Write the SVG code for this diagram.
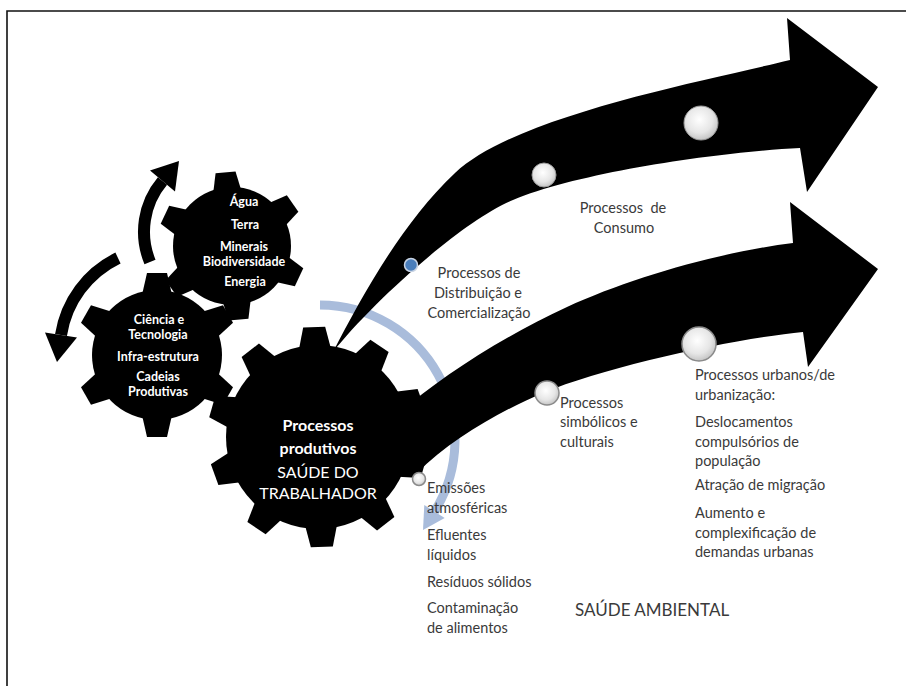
<svg xmlns="http://www.w3.org/2000/svg" xmlns:xlink="http://www.w3.org/1999/xlink" width="906" height="686" viewBox="0 0 906 686">
  <style>
    .frame { stroke: #111; stroke-width: 1.6; fill: none; }
    .gear { fill: #000; }
    .gtxt { fill: #fff; font-family: Lato, "Liberation Sans", sans-serif; text-anchor: middle; }
    .small { font-size: 12.5px; font-weight: bold; }
    .big { font-size: 16px; }
    .bold { font-weight: bold; }
    .lbl { fill: #3a3a3a; font-family: Lato, "Liberation Sans", sans-serif; font-size: 14.5px; }
    .mid { text-anchor: middle; }
    .title { fill: #3a3a3a; font-family: Lato, "Liberation Sans", sans-serif; font-size: 17px; }
    .cycle { fill: none; stroke: #000; stroke-width: 12; }
    .flow { fill: #000; }
    .dot { fill: url(#pearl); stroke: #8a8a8a; stroke-width: 1.5; }
    .dot-in { fill: url(#pearl); stroke: #9a9a9a; stroke-width: 1; }
  </style>
  <defs>
    <radialGradient id="pearl" cx="0.45" cy="0.4" r="0.65">
      <stop offset="0" stop-color="#ffffff"/>
      <stop offset="0.6" stop-color="#e6e6e6"/>
      <stop offset="1" stop-color="#bdbdbd"/>
    </radialGradient>
    <polygon id="tooth-l" points="-16,-88 -11,-110 11,-110 16,-88"/>
    <polygon id="tooth-m" points="-15,-60 -10,-82 10,-82 15,-60"/>
    <polygon id="tooth-s" points="-14,-55 -10,-74 10,-74 14,-55"/>
  </defs>

  <rect width="906" height="686" fill="#fff"/>
  <path class="frame" d="M906,11 H7 V686"/>

  <!-- blue rotation arc around the main gear -->
  <g id="cycle-blue">
    <path d="M320,305 A135 135 0 0 1 434.5,511.5" fill="none" stroke="#a9bcdb" stroke-width="9"/>
    <polygon points="444.7,517.9 424.3,505.1 423,530" fill="#a9bcdb"/>
  </g>

  <!-- circular arrows linking the small gears -->
  <g id="cycle-left">
    <path class="cycle" d="M118,258 A103 103 0 0 0 61,335"/>
    <polygon points="45,332.5 77,337.5 57,362" fill="#000"/>
  </g>
  <g id="cycle-top">
    <path class="cycle" d="M150,262 A79 79 0 0 1 162.5,181"/>
    <polygon points="150,170.5 175,191.5 179,161" fill="#000"/>
  </g>

  <!-- flow arrows -->
  <g id="connectors">
    <path id="arrow-upper" class="flow" d="M333,352 C360,300 400,225 455,173 C515,116 700,82 790,60 L787,18 L878,87 L807,192 L800,148 C720,152 580,172 513,200 C460,222 370,305 333,352 Z"/>
    <path id="arrow-lower" class="flow" d="M350,470 L400,412 C440,378 500,338 567,307 C630,278 720,252 793,243 L790,202 L878,269 L808,367 L803,332 C740,338 610,365 543,393 C500,411 450,440 417,473 L360,482 Z"/>
  </g>

  <!-- gear: natural resources -->
  <g id="gear-recursos" transform="translate(232,246)">
    <circle class="gear" r="59"/>
    <use href="#tooth-s" transform="rotate(-5)"/>
    <use href="#tooth-s" transform="rotate(55)"/>
    <use href="#tooth-s" transform="rotate(115)"/>
    <use href="#tooth-s" transform="rotate(175)"/>
    <use href="#tooth-s" transform="rotate(235)"/>
    <use href="#tooth-s" transform="rotate(295)"/>
    <g class="gtxt small">
      <text x="12" y="-40">Água</text>
      <text x="13" y="-17">Terra</text>
      <text x="12" y="5">Minerais</text>
      <text x="12" y="20">Biodiversidade</text>
      <text x="13" y="40">Energia</text>
    </g>
  </g>

  <!-- gear: science and technology -->
  <g id="gear-ciencia" transform="translate(157,355)">
    <circle class="gear" r="65"/>
    <use href="#tooth-m" transform="rotate(0)"/>
    <use href="#tooth-m" transform="rotate(60)"/>
    <use href="#tooth-m" transform="rotate(120)"/>
    <use href="#tooth-m" transform="rotate(180)"/>
    <use href="#tooth-m" transform="rotate(240)"/>
    <use href="#tooth-m" transform="rotate(300)"/>
    <g class="gtxt small">
      <text x="2" y="-31">Ciência e</text>
      <text x="1" y="-16">Tecnologia</text>
      <text x="1" y="6">Infra-estrutura</text>
      <text x="1" y="26">Cadeias</text>
      <text x="1" y="41">Produtivas</text>
    </g>
  </g>

  <!-- main gear: production processes -->
  <g id="gear-produtivos" transform="translate(318,437)">
    <circle class="gear" r="92"/>
    <use href="#tooth-l" transform="rotate(-2)"/>
    <use href="#tooth-l" transform="rotate(34)"/>
    <use href="#tooth-l" transform="rotate(70)"/>
    <use href="#tooth-l" transform="rotate(106)"/>
    <use href="#tooth-l" transform="rotate(142)"/>
    <use href="#tooth-l" transform="rotate(178)"/>
    <use href="#tooth-l" transform="rotate(214)"/>
    <use href="#tooth-l" transform="rotate(250)"/>
    <use href="#tooth-l" transform="rotate(286)"/>
    <use href="#tooth-l" transform="rotate(322)"/>
    <g class="gtxt big">
      <text class="bold" y="-6">Processos</text>
      <text class="bold" y="17">produtivos</text>
      <text y="41">SAÚDE DO</text>
      <text y="62">TRABALHADOR</text>
    </g>
  </g>

  <!-- stage markers -->
  <g id="markers">
    <circle cx="411" cy="265" r="6.5" fill="#4a7ebb" stroke="#c8d3e3" stroke-width="1.5"/>
    <circle class="dot-in" cx="544" cy="175" r="12"/>
    <circle class="dot-in" cx="701" cy="123" r="17"/>
    <circle class="dot" cx="419" cy="479" r="6.5"/>
    <circle class="dot" cx="547" cy="393" r="12"/>
    <circle class="dot" cx="699" cy="344" r="17"/>
  </g>

  <!-- labels -->
  <g id="label-consumo" class="lbl mid">
    <text x="623" y="213">Processos&#160; de</text>
    <text x="624" y="233">Consumo</text>
  </g>
  <g id="label-distribuicao" class="lbl mid">
    <text x="479" y="278">Processos de</text>
    <text x="478" y="298">Distribuição e</text>
    <text x="479" y="318">Comercialização</text>
  </g>
  <g id="label-simbolicos" class="lbl">
    <text x="560" y="408">Processos</text>
    <text x="560" y="427">simbólicos e</text>
    <text x="560" y="447">culturais</text>
  </g>
  <g id="label-urbanos" class="lbl">
    <text x="695" y="380">Processos urbanos/de</text>
    <text x="695" y="400">urbanização:</text>
    <text x="695" y="427">Deslocamentos</text>
    <text x="695" y="447">compulsórios de</text>
    <text x="695" y="466">população</text>
    <text x="695" y="490">Atração de migração</text>
    <text x="695" y="518">Aumento e</text>
    <text x="695" y="538">complexificação de</text>
    <text x="695" y="557">demandas urbanas</text>
  </g>
  <g id="label-emissoes" class="lbl">
    <text x="427" y="493">Emissões</text>
    <text x="427" y="513">atmosféricas</text>
    <text x="427" y="540">Efluentes</text>
    <text x="427" y="560">líquidos</text>
    <text x="427" y="587">Resíduos sólidos</text>
    <text x="427" y="613">Contaminação</text>
    <text x="427" y="633">de alimentos</text>
  </g>
  <text id="label-ambiental" class="title" x="575" y="616">SAÚDE AMBIENTAL</text>
</svg>
